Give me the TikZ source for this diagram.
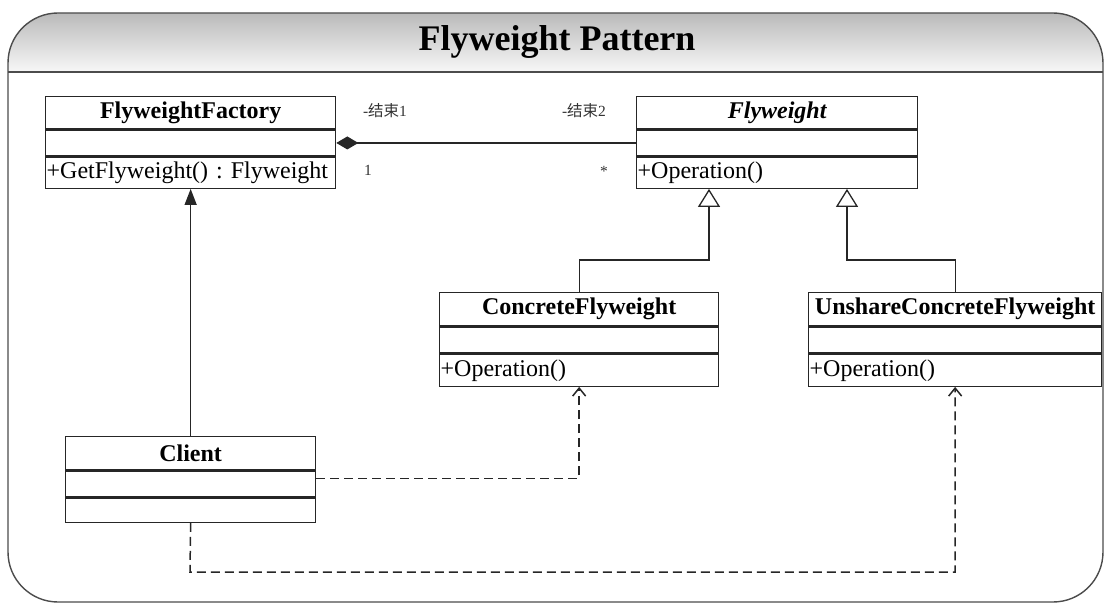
\documentclass[tikz,border=0pt]{standalone}
\usepackage{fontspec}
\setmainfont{Liberation Serif}
\newfontfamily\cjk{Noto Sans CJK SC}
\usetikzlibrary{arrows.meta,positioning}
\frenchspacing
\begin{document}
\begin{tikzpicture}[x=1pt,y=-1pt,
    frame/.style={draw=black!70, line width=1.4pt},
    clshead/.style={draw=black!85, line width=1.3pt, anchor=north west, inner sep=0pt, font=\fontsize{24}{24}\selectfont\bfseries},
    clsrow/.style={draw=black!85, line width=1.3pt, anchor=north, inner sep=1pt, align=left, font=\fontsize{24}{24}\selectfont},
    role/.style={font=\fontsize{15.5}{15.5}\selectfont, text=black!80},
    link/.style={draw=black!85, line width=1.3pt},
    dep/.style={link, line width=1.5pt, dash pattern=on 9pt off 5pt, -{Straight Barb[width=13pt,length=8pt]}}]
    \useasboundingbox (0,0) rectangle (1104,604);

    % Frame and header
    \begin{scope}
        \clip[rounded corners=50pt] (8,13) rectangle (1103,602);
        \shade[top color=black!27, bottom color=black!3] (8,13) rectangle (1103,72);
    \end{scope}
    \draw[frame, rounded corners=50pt] (8,13) rectangle (1103,602);
    \draw[frame] (8,72) -- (1103,72);
    \node[font=\fontsize{36}{36}\selectfont\bfseries] (title) at (557,42) {Flyweight Pattern};

    % Classes
    \node[clshead, minimum width=290pt, minimum height=32pt] (fact) at (45,96) {FlyweightFactory};
    \node[clsrow, minimum width=290pt, minimum height=26pt, below=0pt of fact] (factAttr) {};
    \node[clsrow, text width=288pt, minimum height=31pt, below=0pt of factAttr] (factOps) {+GetFlyweight() : Flyweight};

    \node[clshead, minimum width=281pt, minimum height=32pt] (fly) at (636,96) {\itshape Flyweight};
    \node[clsrow, minimum width=281pt, minimum height=26pt, below=0pt of fly] (flyAttr) {};
    \node[clsrow, text width=279pt, minimum height=31pt, below=0pt of flyAttr] (flyOps) {+Operation()};

    \node[clshead, minimum width=279pt, minimum height=33pt] (conc) at (439,292) {ConcreteFlyweight};
    \node[clsrow, minimum width=279pt, minimum height=26pt, below=0pt of conc] (concAttr) {};
    \node[clsrow, text width=277pt, minimum height=32pt, below=0pt of concAttr] (concOps) {+Operation()};

    \node[clshead, minimum width=293pt, minimum height=33pt] (unsh) at (808,292) {UnshareConcreteFlyweight};
    \node[clsrow, minimum width=293pt, minimum height=26pt, below=0pt of unsh] (unshAttr) {};
    \node[clsrow, text width=291pt, minimum height=32pt, below=0pt of unshAttr] (unshOps) {+Operation()};

    \node[clshead, minimum width=250pt, minimum height=33pt] (client) at (65,436) {Client};
    \node[clsrow, minimum width=250pt, minimum height=26pt, below=0pt of client] (clientAttr) {};
    \node[clsrow, minimum width=250pt, minimum height=24pt, below=0pt of clientAttr] (clientOps) {};

    % Association ends
    \node[role] (endA) at (385,111) {-{\cjk 结束}1};
    \node[role] (multA) at (368,170) {1};
    \node[role] (endB) at (584,111) {-{\cjk 结束}2};
    \node[role] (multB) at (604,171) {*};

    % Connectors
    \draw[link, {Diamond[width=13pt,length=22pt]}-] (factAttr.east) -- (flyAttr.west);
    \draw[link, -{Triangle[width=12pt,length=16pt]}] (client.north) -- (client.north |- factOps.south);

    \coordinate (bendA) at (709,260);
    \coordinate (bendB) at (847,260);
    \draw[link, -{Triangle[open,width=22pt,length=18pt]}] (conc.north) |- (bendA) -- (bendA |- flyOps.south);
    \draw[link, -{Triangle[open,width=22pt,length=18pt]}] (unsh.north) |- (bendB) -- (bendB |- flyOps.south);

    \coordinate (bendC) at (190,572);
    \draw[dep] ([yshift=-8pt]clientAttr.north east) -| (concOps.south);
    \draw[dep] (clientOps.south) -- (bendC) -| (unshOps.south);
\end{tikzpicture}
\end{document}
